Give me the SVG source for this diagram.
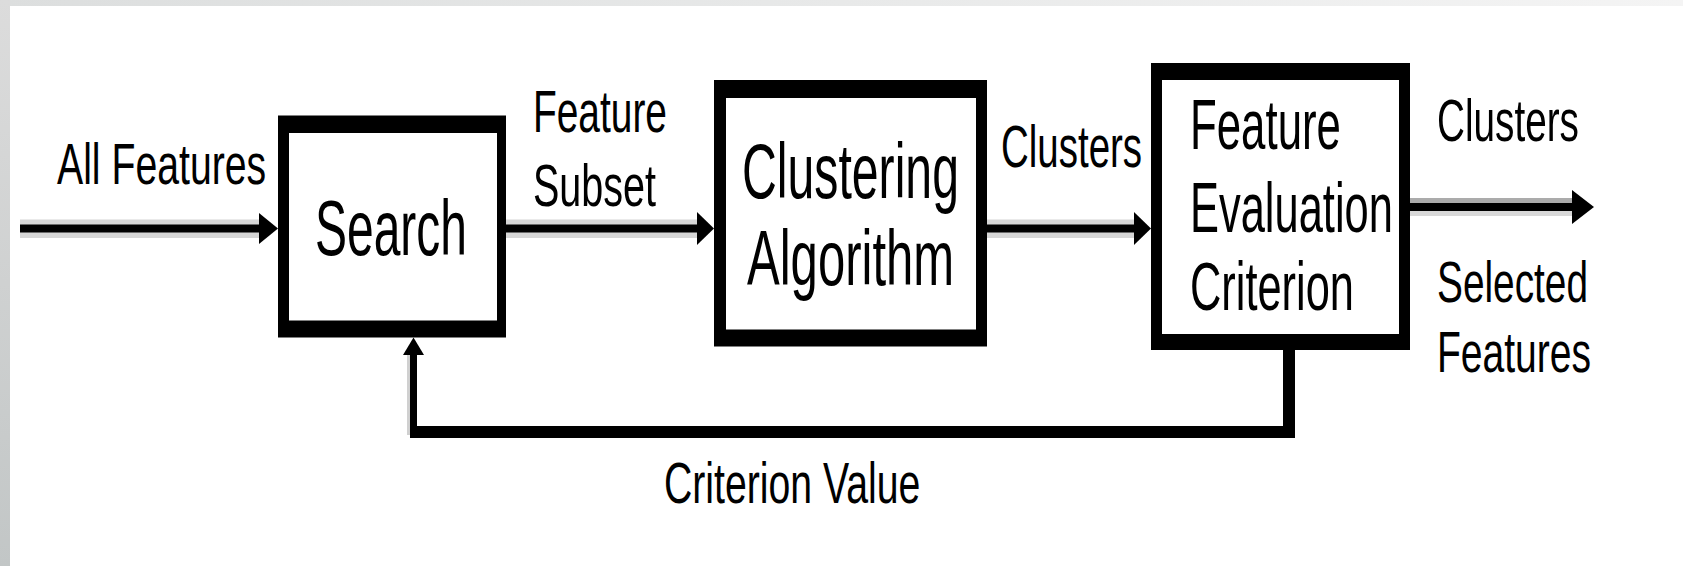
<svg xmlns="http://www.w3.org/2000/svg" width="1683" height="566" viewBox="0 0 1683 566">
  <defs>
    <linearGradient id="frameTop" x1="0" y1="0" x2="1" y2="0">
      <stop offset="0" stop-color="#dcdede"/>
      <stop offset="1" stop-color="#f4f4f4"/>
    </linearGradient>
    <linearGradient id="frameLeft" x1="0" y1="0" x2="0" y2="1">
      <stop offset="0" stop-color="#dcdcdc"/>
      <stop offset="1" stop-color="#c2c6c6"/>
    </linearGradient>
  </defs>
  <style>
    .lbl { font-family: "Liberation Sans", Arial, sans-serif; fill: #000; }
    .frame { fill: #000; }
    .face { fill: #fff; }
    .wire { fill: #000; }
    .halo { fill: #d6d6d6; }
    .head { fill: #000; }
  </style>

  <!-- page background and frame edges -->
  <rect x="0" y="0" width="1683" height="566" fill="#fff"/>
  <rect x="0" y="0" width="1683" height="6" fill="url(#frameTop)"/>
  <rect x="0" y="0" width="10" height="566" fill="url(#frameLeft)"/>

  <!-- connectors (labels use a condensed horizontal scale) -->
  <g id="connectors">
    <!-- All Features input -->
    <rect class="halo" x="20" y="219.5" width="242" height="18.5"/>
    <rect class="wire" x="20" y="224.5" width="242" height="8"/>
    <polygon class="head" points="259,213 278,228.5 259,244"/>
    <text class="lbl" font-size="58" transform="translate(57,184) scale(0.676,1)">All Features</text>

    <!-- Search to Clustering -->
    <rect class="halo" x="506" y="219.5" width="194" height="18.5"/>
    <rect class="wire" x="506" y="224.5" width="194" height="8"/>
    <polygon class="head" points="697,212 714,228.5 697,245"/>
    <text class="lbl" font-size="59" transform="translate(533,132) scale(0.659,1)">Feature</text>
    <text class="lbl" font-size="59" transform="translate(533,206) scale(0.670,1)">Subset</text>

    <!-- Clustering to evaluation -->
    <rect class="halo" x="987" y="219.5" width="150" height="18.5"/>
    <rect class="wire" x="987" y="224.5" width="150" height="8"/>
    <polygon class="head" points="1134,212 1151,228.5 1134,245"/>
    <text class="lbl" font-size="59" transform="translate(1001,167) scale(0.652,1)">Clusters</text>

    <!-- evaluation output -->
    <rect x="1410" y="198" width="165" height="6" fill="#ababab"/>
    <rect x="1410" y="210" width="165" height="6" fill="#d8d8d8"/>
    <rect class="wire" x="1410" y="203" width="165" height="8"/>
    <polygon class="head" points="1572,190 1594,207 1572,224"/>
    <text class="lbl" font-size="60" transform="translate(1437,141) scale(0.645,1)">Clusters</text>
    <text class="lbl" font-size="57" transform="translate(1437,301.5) scale(0.681,1)">Selected</text>
    <text class="lbl" font-size="58" transform="translate(1437,372) scale(0.673,1)">Features</text>

    <!-- criterion value feedback loop -->
    <rect class="wire" x="1283" y="348" width="12" height="90"/>
    <rect class="wire" x="410" y="426" width="885" height="12"/>
    <rect x="407" y="355" width="3" height="80" fill="#d0d0d0"/>
    <rect class="wire" x="410" y="352" width="7" height="86"/>
    <polygon class="head" points="403,355 413.5,337.5 424,355"/>
    <text class="lbl" font-size="57" transform="translate(664,502.5) scale(0.688,1)">Criterion Value</text>
  </g>

  <!-- Search block -->
  <g id="search">
    <rect class="frame" x="278" y="115.5" width="228" height="222"/>
    <rect class="face" x="289" y="133" width="208" height="187.5"/>
    <text class="lbl" font-size="78" transform="translate(315,254.5) scale(0.615,1)">Search</text>
  </g>

  <!-- Clustering Algorithm block -->
  <g id="clustering">
    <rect class="frame" x="714" y="80" width="273" height="266.5"/>
    <rect class="face" x="726" y="98" width="250" height="231.5"/>
    <text class="lbl" font-size="77" transform="translate(742,198) scale(0.626,1)">Clustering</text>
    <text class="lbl" font-size="77" transform="translate(747,285) scale(0.637,1)">Algorithm</text>
  </g>

  <!-- Feature Evaluation Criterion block -->
  <g id="evaluation">
    <rect class="frame" x="1151" y="63" width="259" height="287"/>
    <rect class="face" x="1162" y="80" width="237" height="254"/>
    <text class="lbl" font-size="71" transform="translate(1190,149) scale(0.617,1)">Feature</text>
    <text class="lbl" font-size="71" transform="translate(1190,232) scale(0.612,1)">Evaluation</text>
    <text class="lbl" font-size="69" transform="translate(1190,310) scale(0.629,1)">Criterion</text>
  </g>
</svg>
